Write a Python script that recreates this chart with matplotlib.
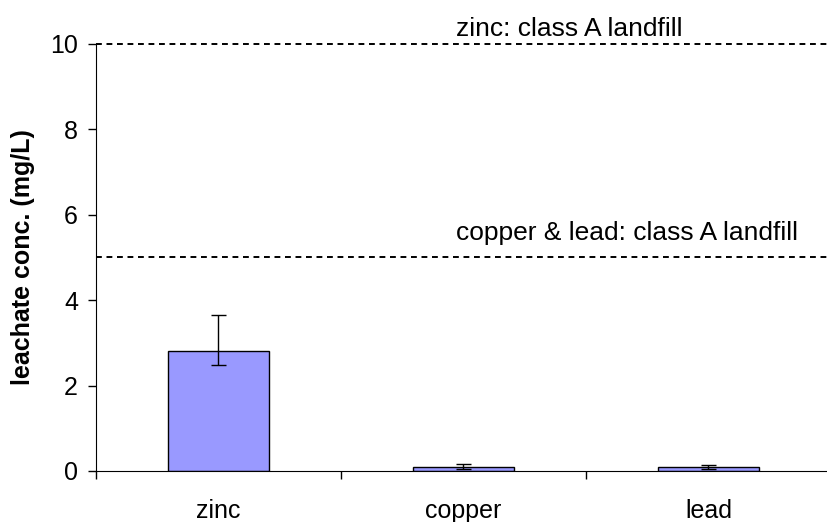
import matplotlib.pyplot as plt
import numpy as np

plt.rcParams['font.family'] = ['Liberation Sans', 'DejaVu Sans']

metals = ["zinc", "copper", "lead"]
conc = [2.81, 0.10, 0.09]
err_low = [0.33, 0.06, 0.05]
err_high = [0.84, 0.07, 0.06]

limits = [10, 5]
limit_labels = ["zinc: class A landfill", "copper & lead: class A landfill"]


def main():
    fig = plt.figure(figsize=(8.28, 5.22), dpi=100)
    ax = fig.add_axes([96 / 828, 51 / 522, 735 / 828, 427 / 522])

    x = np.arange(len(metals))
    ax.bar(x, conc, width=0.41, color="#9999FF", edgecolor="black", linewidth=1.0,
           yerr=[err_low, err_high], error_kw=dict(ecolor="black", elinewidth=1.0,
                                                   capsize=5.4, capthick=1.0))

    # regulatory limits, label sits a bit above each line
    text_offsets = [0.19, 0.40]
    for lim, lab, off in zip(limits, limit_labels, text_offsets):
        ax.axhline(lim, color="black", linestyle=(0, (3.0, 2.4)), linewidth=1.4,
                   clip_on=False)
        ax.text(0.97, lim + off, lab, fontsize=19, va="baseline", ha="left")

    ax.set_xlim(-0.5, 2.5)
    ax.set_ylim(0, 10)
    ax.set_yticks([0, 2, 4, 6, 8, 10])
    ax.set_xticks([-0.5, 0.5, 1.5, 2.5])
    ax.set_xticklabels([])
    ax.set_xticks(x, minor=True)
    ax.set_xticklabels(metals, minor=True)
    ax.tick_params(axis="x", which="minor", length=0, labelsize=18, pad=20)
    ax.tick_params(axis="x", which="major", length=6, width=1)
    ax.tick_params(axis="y", length=6, width=1, labelsize=18, pad=7)

    for side in ["top", "right"]:
        ax.spines[side].set_visible(False)

    ax.set_ylabel("leachate conc. (mg/L)", fontsize=18, fontweight="bold", labelpad=11)

    fig.savefig("out.png", dpi=100)


if __name__ == "__main__":
    main()
